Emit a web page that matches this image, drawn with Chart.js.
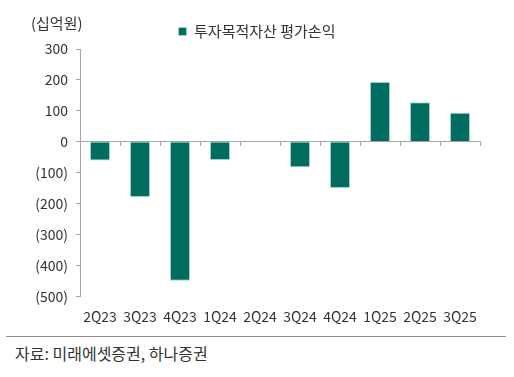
<!DOCTYPE html>
<html>
<head>
<meta charset="utf-8">
<script src="https://cdn.jsdelivr.net/npm/chart.js@4"></script>
<style>
  body { margin: 0; background: #fff; font-family: "Noto Sans CJK KR", sans-serif; }
  #wrap { width: 514px; height: 377px; position: relative; }
  #chart-box { width: 514px; height: 329px; }
  #rule { position: absolute; left: 6px; top: 336px; width: 500px; border-top: 1px solid #8c8c8c; }
  #source { position: absolute; left: 15px; top: 341px; font-size: 16px; color: #333; }
</style>
</head>
<body>
<div id="wrap">
  <div id="chart-box"><canvas id="gain-chart"></canvas></div>
  <div id="rule"></div>
  <div id="source">자료: 미래에셋증권, 하나증권</div>
</div>
<script>
const quarters = ['2Q23', '3Q23', '4Q23', '1Q24', '2Q24', '3Q24', '4Q24', '1Q25', '2Q25', '3Q25'];
const gainValues = [-61, -179, -450, -59, 0, -83, -150, 193, 128, 94];
const seriesName = '투자목적자산 평가손익';
const unitLabel = '(십억원)';

const fontFamily = '"Noto Sans CJK KR", "Noto Sans", sans-serif';
const axisGray = '#a6a6a6';

// unit text in the top-left corner
const unitPlugin = {
    id: 'unitLabel',
    afterDraw(chart) {
        const c = chart.ctx;
        c.save();
        c.font = '15px ' + fontFamily;
        c.fillStyle = '#333';
        c.textBaseline = 'middle';
        c.fillText(unitLabel, 31, 23);
        c.restore();
    }
};

const ctx = document.getElementById('gain-chart').getContext('2d');
const myChart = new Chart(ctx, {
    type: 'bar',
    data: {
        labels: quarters,
        datasets: [{
            label: seriesName,
            data: gainValues,
            backgroundColor: '#006b5f',
            borderColor: '#9ad6ca',
            borderWidth: 1,
            barPercentage: 0.5,
            categoryPercentage: 1.0,
            xAxisID: 'x'
        }]
    },
    options: {
        responsive: true,
        maintainAspectRatio: false,
        animation: false,
        layout: { padding: { left: 34, right: 34, top: 20, bottom: 0 } },
        plugins: {
            tooltip: { enabled: false },
            legend: {
                position: 'top',
                labels: {
                    boxWidth: 8,
                    boxHeight: 8,
                    color: '#333',
                    font: { family: fontFamily, size: 15 },
                    padding: 4
                }
            }
        },
        scales: {
            x: {
                position: 'bottom',
                offset: true,
                grid: { display: false },
                border: { display: false },
                ticks: { color: '#333', font: { family: fontFamily, size: 14 }, padding: 4, maxRotation: 0 }
            },
            x0: {
                position: { y: 0 },
                offset: true,
                grid: { offset: true, drawOnChartArea: false, drawTicks: true, tickLength: 4, color: axisGray },
                border: { display: true, color: axisGray, width: 1 },
                ticks: { display: false }
            },
            y: {
                min: -500,
                max: 300,
                afterFit(scale) { scale.width = 46; },
                grid: { drawOnChartArea: false, drawTicks: true, tickLength: 4, color: axisGray },
                border: { display: true, color: axisGray, width: 1 },
                ticks: {
                    stepSize: 100,
                    color: '#333',
                    padding: 8,
                    font: { family: fontFamily, size: 14 },
                    callback: v => v < 0 ? '(' + Math.abs(v) + ')' : String(v)
                }
            }
        }
    },
    plugins: [unitPlugin]
});
</script>
</body>
</html>
